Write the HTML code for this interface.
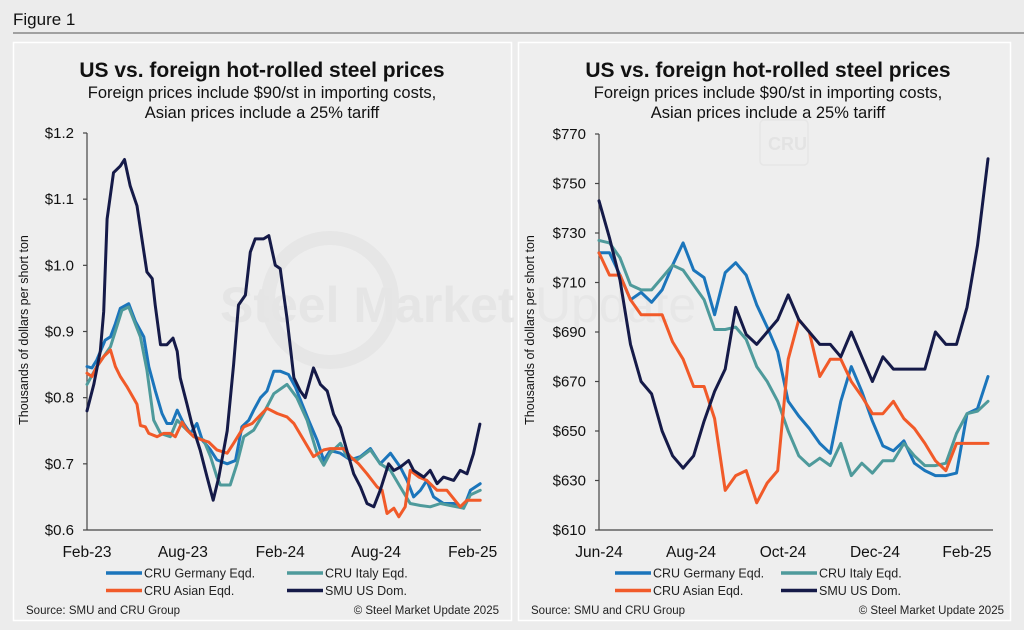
<!DOCTYPE html>
<html><head><meta charset="utf-8">
<style>
body{margin:0;width:1024px;height:630px;background:#ececec;font-family:"Liberation Sans",Arial,sans-serif;overflow:hidden}
svg{position:absolute;left:0;top:0}
</style></head>
<body>
<svg id="svg" width="1024" height="630" viewBox="0 0 1024 630">
  <rect x="0" y="0" width="1024" height="630" fill="#ececec"/>
  <text x="13" y="25" font-size="17" fill="#111">Figure 1</text>
  <line x1="13" y1="33" x2="1024" y2="33" stroke="#555" stroke-width="1"/>
  <rect x="13.5" y="42.5" width="498" height="578" fill="#eeeeee" stroke="#fff" stroke-width="1.5"/>
  <rect x="518.5" y="42.5" width="492" height="578" fill="#eeeeee" stroke="#fff" stroke-width="1.5"/>
  <g>
    <circle cx="330" cy="300" r="62" fill="none" stroke="#e6e6e6" stroke-width="14"/>
    <text x="220" y="322" font-size="50" font-weight="bold" fill="#e5e5e5">Steel Market</text>
    <text x="535" y="322" font-size="50" fill="#e7e7e7">Update</text>
    <rect x="760" y="120" width="48" height="45" rx="4" fill="none" stroke="#e6e6e6" stroke-width="1.5"/>
    <text x="768" y="150" font-size="18" font-weight="bold" fill="#e3e3e3">CRU</text>
  </g>
  <g id="left"></g>
  <g id="right"></g>
</svg>
<script>
// ---------- Left chart data (week index from Feb-23) ----------
const leftTickVals = [0.6,0.7,0.8,0.9,1.0,1.1,1.2];
const leftTickLabels = ["$0.6","$0.7","$0.8","$0.9","$1.0","$1.1","$1.2"];
const leftXLabels = ["Feb-23","Aug-23","Feb-24","Aug-24","Feb-25"];
const leftXLabelWeeks = [0,25.3,51,76.3,101.8];

const smuWeeksL = [0,1.8,3.5,4.4,5.3,7,8.8,9.9,11.4,13.2,14.5,15.8,17.2,18,19.4,21.1,22.7,23.8,24.6,26.4,27.7,29.9,31.7,33.3,34.8,37,38.7,40,41.8,43.1,44.4,46.6,48,49.7,51,52.8,54.6,56.3,57.6,59.8,61.6,63.4,65.1,66.9,68.6,70.4,72.2,73.9,75.7,77.4,79.6,81,82.7,84.9,86.2,88.9,90.6,92.4,94.1,96.8,98.5,100.3,102,103.7];
const smuValsL = [0.78,0.82,0.87,0.93,1.07,1.14,1.15,1.16,1.12,1.09,1.04,0.99,0.98,0.94,0.88,0.88,0.89,0.87,0.83,0.79,0.76,0.72,0.68,0.645,0.68,0.75,0.85,0.94,0.955,1.02,1.04,1.04,1.045,1.00,0.995,0.92,0.83,0.81,0.80,0.845,0.82,0.81,0.775,0.755,0.72,0.685,0.665,0.64,0.635,0.66,0.70,0.69,0.695,0.705,0.69,0.68,0.69,0.67,0.68,0.675,0.69,0.685,0.715,0.76];

const gerWeeksL = [0,1.3,2.6,4.8,6.2,7.5,8.8,11,12.8,15,16.3,18,19.8,21.1,22.4,23.8,25.5,27.3,29,30.4,32.6,34.3,37,39.2,40.9,42.7,44,45.8,47.5,49.3,51,53.2,55,56.8,58.5,60.7,62.5,64.2,66.9,69.5,72.2,74.8,77.4,80.1,82.7,84.5,86.2,88,89.7,91.5,94.1,96.8,99.4,101.2,103.8];
const gerValsL = [0.847,0.845,0.857,0.887,0.892,0.912,0.935,0.942,0.915,0.892,0.847,0.811,0.776,0.761,0.761,0.781,0.761,0.746,0.761,0.736,0.721,0.706,0.70,0.705,0.756,0.766,0.781,0.80,0.81,0.84,0.84,0.835,0.816,0.79,0.766,0.736,0.705,0.72,0.716,0.706,0.711,0.723,0.70,0.716,0.695,0.675,0.65,0.66,0.675,0.65,0.64,0.64,0.633,0.66,0.67];

const itaWeeksL = [0,2.6,6.2,9.2,11,14.1,15.8,17.6,19.4,22,23.8,25.5,28.2,30.8,32.6,34.3,35.2,37.8,39.6,41.4,44,46.6,49.3,52.8,55.4,58.1,60.7,62.5,64.2,66.9,68.6,71.3,74.8,77.4,80.1,82.7,85.3,88,90.6,93.3,95.9,99.4,101.2,103.8];
const itaValsL = [0.82,0.847,0.877,0.932,0.937,0.892,0.842,0.766,0.746,0.741,0.766,0.756,0.741,0.736,0.711,0.68,0.668,0.668,0.70,0.741,0.751,0.776,0.806,0.82,0.80,0.766,0.716,0.698,0.716,0.731,0.711,0.706,0.721,0.70,0.69,0.665,0.64,0.637,0.635,0.64,0.637,0.633,0.653,0.66];

const asiWeeksL = [0,1.3,2.6,4.4,6.2,7.5,8.8,10.6,13.2,14.1,15.4,16.3,18.5,20.2,22,23.3,25.1,26.4,28.2,30.4,32.1,34.3,37,38.7,41.4,43.6,45.8,47.5,50.2,52.8,54.6,57.2,59.8,62.5,64.2,67.8,69.5,71.7,73.9,76.6,77.9,79.2,81,82.3,84,85.3,87.6,89.7,92.4,95,98.5,100.3,103.8];
const asiValsL = [0.837,0.832,0.847,0.862,0.872,0.847,0.832,0.816,0.79,0.758,0.756,0.746,0.741,0.746,0.746,0.741,0.763,0.751,0.741,0.736,0.733,0.721,0.716,0.731,0.756,0.761,0.774,0.784,0.776,0.771,0.761,0.736,0.711,0.721,0.723,0.723,0.711,0.70,0.685,0.665,0.66,0.625,0.633,0.62,0.635,0.69,0.68,0.675,0.66,0.66,0.635,0.645,0.645];

// ---------- Right chart data (week index from Jun-24) ----------
const rightTickVals = [610,630,650,670,690,710,730,750,770];
const rightTickLabels = ["$610","$630","$650","$670","$690","$710","$730","$750","$770"];
const rightXLabels = ["Jun-24","Aug-24","Oct-24","Dec-24","Feb-25"];
const rightXLabelWeeks = [0,8.75,17.5,26.25,35];
const gerValsR = [722,722,713,703,706,702,707,717,726,715,712,697,714,718,713,701,692,682,662,656,651,645,641,662,676,666,654,644,642,646,637,634,632,632,633,657,659,672];
const itaValsR = [727,726,720,709,707,707,712,717,715,709,703,691,691,692,687,676,670,662,650,640,636,639,636,645,632,637,633,638,638,645,640,636,636,637,649,657,658,662];
const asiValsR = [722,713,713,703,697,697,697,686,679,668,668,655,626,632,634,621,629,634,679,695,690,672,679,679,670,664,657,657,662,655,651,645,638,634,645,645,645,645];
const smuValsR = [743,728,711,685,670,665,650,640,635,640,654,666,675,700,689,685,690,695,705,695,690,685,685,680,690,680,670,680,675,675,675,675,690,685,685,700,725,760];

const COLORS = {ger:"#1b75bb", ita:"#4e9a9b", asi:"#f15a29", smu:"#151a48"};
const NS = "http://www.w3.org/2000/svg";
function mk(tag, attrs, parent){const e=document.createElementNS(NS,tag);for(const k in attrs)e.setAttribute(k,attrs[k]);parent.appendChild(e);return e;}

function drawChart(g, cfg){
  const xS = w => cfg.x0 + (w - cfg.wMin)/(cfg.wMax - cfg.wMin)*(cfg.x1 - cfg.x0);
  const yS = v => cfg.yB - (v - cfg.vMin)/(cfg.vMax - cfg.vMin)*(cfg.yB - cfg.yT);
  const t = mk('text',{x:cfg.cx,y:77,'font-size':21,'font-weight':'bold','text-anchor':'middle',fill:'#111'},g);
  t.textContent='US vs. foreign hot-rolled steel prices';
  
  
  const s1 = mk('text',{x:cfg.cx,y:98,'font-size':16.5,'text-anchor':'middle',fill:'#111'},g);
  s1.textContent='Foreign prices include $90/st in importing costs,';
  
  
  const s2 = mk('text',{x:cfg.cx,y:118,'font-size':16.5,'text-anchor':'middle',fill:'#111'},g);
  s2.textContent='Asian prices include a 25% tariff';
  
  
  const ya = mk('line',{x1:cfg.x0,y1:yS(cfg.vMax),x2:cfg.x0,y2:cfg.yB,stroke:'#444','stroke-width':1.2},g);
  
  
  cfg.tickVals.forEach((v,i)=>{
    mk('line',{x1:cfg.x0-4,y1:yS(v),x2:cfg.x0,y2:yS(v),stroke:'#444','stroke-width':1.2},g);
    const tl = mk('text',{x:cfg.x0-13,y:yS(v)+5,'font-size':15,'text-anchor':'end',fill:'#111'},g);
    tl.textContent = cfg.tickLabels[i];
    
    
  });
  const xa = mk('line',{x1:cfg.x0,y1:cfg.yB,x2:cfg.xAxisEnd,y2:cfg.yB,stroke:'#444','stroke-width':1.2},g);
  
  
  cfg.xLabels.forEach((l,i)=>{
    const xl = mk('text',{x:xS(cfg.xLabelWeeks[i]),y:557,'font-size':15.5,'text-anchor':'middle',fill:'#111'},g);
    xl.textContent = l;
    
    
  });
  const yt = mk('text',{x:0,y:0,'font-size':12.5,'text-anchor':'middle',fill:'#111',transform:`translate(${cfg.ytx},330) rotate(-90)`},g);
  yt.textContent='Thousands of dollars per short ton';
  
  
  cfg.series.forEach(sr=>{
    const pts = sr.vals.map((v,i)=>xS(sr.weeks[i]).toFixed(1)+','+yS(v).toFixed(1)).join(' ');
    const p = mk('polyline',{points:pts,fill:'none',stroke:sr.color,'stroke-width':3,'stroke-linejoin':'round','stroke-linecap':'round'},g);
    
    
  });
  const leg = [['CRU Germany Eqd.',COLORS.ger,0,0],['CRU Italy Eqd.',COLORS.ita,1,0],['CRU Asian Eqd.',COLORS.asi,0,1],['SMU US Dom.',COLORS.smu,1,1]];
  leg.forEach(([name,c,col,row])=>{
    const lx = col ? cfg.legX2 : cfg.legX1, ly = 573 + row*17.5;
    const lg = mk('g',{},g);
    
    
    mk('line',{x1:lx,y1:ly,x2:lx+36,y2:ly,stroke:c,'stroke-width':3.5},lg);
    const lt = mk('text',{x:lx+38,y:ly+4.5,'font-size':12.5,fill:'#222'},lg);
    lt.textContent = name;
  });
  const src = mk('text',{x:cfg.srcX,y:614,'font-size':11.5,fill:'#222'},g);
  src.textContent='Source: SMU and CRU Group';
  
  
  const cp = mk('text',{x:cfg.cpX,y:614,'font-size':11.5,'text-anchor':'end',fill:'#222'},g);
  cp.textContent='© Steel Market Update 2025';
  
  
}

const rWeeks = gerValsR.map((_,i)=>i);
drawChart(document.getElementById('left'),{
  cx:262,x0:87,x1:481,xAxisEnd:481,wMin:0,wMax:104,yT:133,yB:530,vMin:0.6,vMax:1.2,
  tickVals:leftTickVals,tickLabels:leftTickLabels,xLabels:leftXLabels,xLabelWeeks:leftXLabelWeeks,
  ytx:28,legX1:106,legX2:287,srcX:26,cpX:499,
  series:[
    {key:'germany',weeks:gerWeeksL,vals:gerValsL,color:COLORS.ger},
    {key:'italy',weeks:itaWeeksL,vals:itaValsL,color:COLORS.ita},
    {key:'asian',weeks:asiWeeksL,vals:asiValsL,color:COLORS.asi},
    {key:'smu',weeks:smuWeeksL,vals:smuValsL,color:COLORS.smu}]
});
drawChart(document.getElementById('right'),{
  cx:768,x0:599,x1:988,xAxisEnd:993,wMin:0,wMax:37,yT:134,yB:530,vMin:610,vMax:770,
  tickVals:rightTickVals,tickLabels:rightTickLabels,xLabels:rightXLabels,xLabelWeeks:rightXLabelWeeks,
  ytx:534,legX1:615,legX2:781,srcX:531,cpX:1004,
  series:[
    {key:'germany',weeks:rWeeks,vals:gerValsR,color:COLORS.ger},
    {key:'italy',weeks:rWeeks,vals:itaValsR,color:COLORS.ita},
    {key:'asian',weeks:rWeeks,vals:asiValsR,color:COLORS.asi},
    {key:'smu',weeks:rWeeks,vals:smuValsR,color:COLORS.smu}]
});
</script>
</body></html>
